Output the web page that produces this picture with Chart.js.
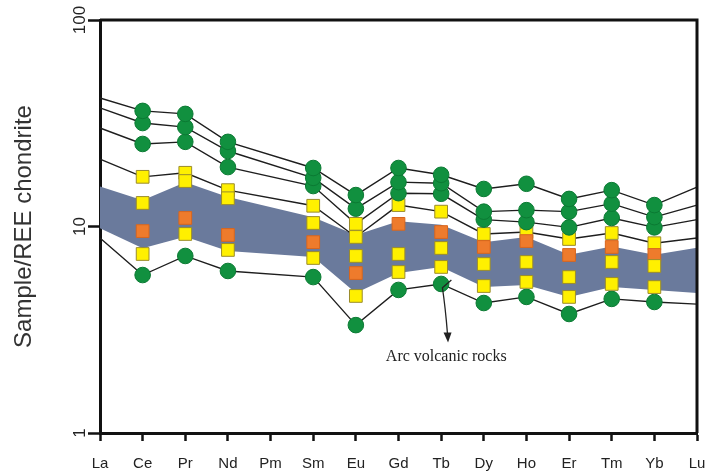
<!DOCTYPE html>
<html><head><meta charset="utf-8">
<script src="https://cdn.jsdelivr.net/npm/chart.js@4.4.1/dist/chart.umd.min.js"></script>
<style>html,body{margin:0;padding:0;background:#fff;overflow:hidden}#wrap{width:707px;height:471px}</style>
</head><body><div id="wrap"><canvas id="c" width="707" height="471"></canvas></div>
<script>
// Categories (REE elements)
const elements = ['La','Ce','Pr','Nd','Pm','Sm','Eu','Gd','Tb','Dy','Ho','Er','Tm','Yb','Lu'];
const yTicks = [1, 10, 100];

// Sample patterns (lines), chondrite-normalised values
const sample1 = [41.9, 36.3, 35.1, 25.7, null, 19.2, 14.2, 19.2, 17.8, 15.2, 16.1, 13.6, 15.0, 12.7, 15.5];
const sample2 = [37.5, 31.7, 30.3, 23.2, null, 17.2, 12.2, 16.4, 16.2, 11.8, 12.0, 11.8, 12.9, 11.1, 12.7];
const sample3 = [30.0, 25.1, 25.7, 19.4, null, 15.7, 10.3, 14.5, 14.4, 10.8, 10.5, 9.9, 11.0, 9.9, 10.8];
const sample4 = [21.2, 17.4, 18.2, 15.0, null, 12.6, 8.9, 12.7, 11.8, 9.2, 9.4, 8.7, 9.3, 8.3, 8.8];
const sample5 = [8.8, 5.82, 7.2, 6.09, null, 5.69, 3.33, 4.93, 5.27, 4.26, 4.56, 3.77, 4.46, 4.31, 4.21];

// Unconnected samples
const yellowA = [null, 13.0, 16.6, 13.7, null, 10.4, 7.2, 7.36, 7.87, 6.58, 6.73, 5.69, 6.73, 6.44, null];
const yellowB = [null, 7.36, 9.2, 7.7, null, 7.04, 4.61, 6.02, 6.37, 5.15, 5.39, 4.56, 5.27, 5.09, null];
const orangeS = [null, 9.5, 11.0, 9.1, null, 8.4, 5.95, 10.3, 9.4, 7.96, 8.5, 7.28, 7.96, 7.28, null];

// Arc volcanic rocks field (upper and lower bounds)
const bandTop    = [15.6, 13.4, 16.4, 13.9, null, 11.1, 9.1, 10.6, 10.2, 8.4, 8.9, 7.3, 8.0, 7.3, 7.9];
const bandBottom = [9.8, 7.84, 8.93, 7.61, null, 7.12, 4.76, 5.95, 6.37, 5.09, 5.21, 4.56, 5.09, 4.93, 4.76];

const fieldLabel = 'Arc volcanic rocks';
const yTitle = 'Sample/REE chondrite';

const GREEN = '#11903f', GREEN_B = '#0b7a33';
const YELLOW = '#fff000', YELLOW_B = '#9a8c2c';
const ORANGE = '#ee7b2c', ORANGE_B = '#d9661d';
const BAND = '#6a7a9c';
const LINE = '#1e1e1e';

const lineSeries = [sample1, sample2, sample3, sample4, sample5];
// which series use square (yellow) markers: all points of sample4, Eu of sample3
const squareMarker = (si, idx) => si === 3 || (si === 2 && elements[idx] === 'Eu');
const lastIdx = elements.length - 1;
const isEdge = ctx => ctx.dataIndex === 0 || ctx.dataIndex === lastIdx;

const datasets = [];
datasets.push({data: bandTop, fill: '+1', backgroundColor: BAND, borderColor: 'rgba(0,0,0,0)', borderWidth: 0, pointRadius: 0, spanGaps: true, order: 10, tension: 0});
datasets.push({data: bandBottom, fill: false, borderColor: 'rgba(0,0,0,0)', borderWidth: 0, pointRadius: 0, spanGaps: true, order: 10, tension: 0});
lineSeries.forEach(d => datasets.push({data: d, fill: false, borderColor: LINE, borderWidth: 1.4, pointRadius: 0, spanGaps: true, order: 5, tension: 0}));
lineSeries.forEach((d, si) => datasets.push({
  data: d, showLine: false, order: 1,
  pointStyle: ctx => squareMarker(si, ctx.dataIndex) ? 'rect' : 'circle',
  pointRadius: ctx => isEdge(ctx) ? 0 : (squareMarker(si, ctx.dataIndex) ? 9 : 7.8),
  pointBackgroundColor: ctx => squareMarker(si, ctx.dataIndex) ? YELLOW : GREEN,
  pointBorderColor: ctx => squareMarker(si, ctx.dataIndex) ? YELLOW_B : GREEN_B,
  pointBorderWidth: 1
}));
[[yellowA, YELLOW, YELLOW_B], [yellowB, YELLOW, YELLOW_B], [orangeS, ORANGE, ORANGE_B]].forEach(([d, c, b]) => datasets.push({
  data: d, showLine: false, order: 0, pointStyle: 'rect', pointRadius: 9,
  pointBackgroundColor: c, pointBorderColor: b, pointBorderWidth: 1
}));

const frame = {
  id: 'frame',
  afterDatasetsDraw(chart) {
    const {ctx, chartArea: a, scales: {x, y}} = chart;
    ctx.save();
    ctx.strokeStyle = '#111';
    ctx.lineWidth = 3;
    ctx.beginPath();
    ctx.moveTo(a.left, a.top); ctx.lineTo(a.right, a.top); ctx.lineTo(a.right, a.bottom);
    ctx.stroke();
    // arrow from the field to the label
    ctx.lineWidth = 1.3;
    ctx.strokeStyle = '#222';
    const p0 = [x.getPixelForValue(8.24), y.getPixelForValue(5.5)];
    const p1 = [x.getPixelForValue(8.03), y.getPixelForValue(5.05)];
    const p2 = [x.getPixelForValue(8.15), y.getPixelForValue(3.0)];
    ctx.beginPath();
    ctx.moveTo(p0[0], p0[1]);
    ctx.lineTo(p1[0], p1[1]);
    ctx.quadraticCurveTo(p1[0] + 3, p1[1] + 20, p2[0], p2[1]);
    ctx.stroke();
    ctx.fillStyle = '#222';
    ctx.beginPath();
    ctx.moveTo(p2[0] - 4, p2[1] - 2);
    ctx.lineTo(p2[0] + 4, p2[1] - 2);
    ctx.lineTo(p2[0] + 0.5, p2[1] + 8);
    ctx.closePath();
    ctx.fill();
    ctx.font = '16px "Liberation Serif", "Times New Roman", serif';
    ctx.textAlign = 'center';
    ctx.textBaseline = 'middle';
    ctx.fillText(fieldLabel, x.getPixelForValue(8.12), y.getPixelForValue(2.33));
    ctx.restore();
  }
};

new Chart(document.getElementById('c'), {
  type: 'line',
  data: {labels: elements, datasets},
  plugins: [frame],
  options: {
    responsive: false, animation: false, devicePixelRatio: 1,
    layout: {padding: {top: 20, right: 8, left: 0, bottom: 0}},
    plugins: {legend: {display: false}, tooltip: {enabled: false}},
    scales: {
      x: {
        type: 'category', offset: false,
        grid: {display: true, drawOnChartArea: false, drawTicks: true, tickLength: 8, tickWidth: 2.5, tickColor: '#111'},
        border: {display: true, width: 3, color: '#111'},
        ticks: {autoSkip: false, maxRotation: 0, minRotation: 0, padding: 14, color: '#222', font: {family: '"Liberation Sans", Arial, sans-serif', size: 15}},
        afterFit(s) { s.height = 38; s.paddingLeft = 0; s.paddingRight = 0; }
      },
      y: {
        type: 'logarithmic', min: 1, max: 100,
        afterBuildTicks(s) { s.ticks = yTicks.map(v => ({value: v})); },
        grid: {display: true, drawOnChartArea: false, drawTicks: true, tickLength: 12, tickWidth: 2.5, tickColor: '#111'},
        border: {display: true, width: 3, color: '#111'},
        ticks: {minRotation: 90, maxRotation: 90, crossAlign: 'center', padding: -6, color: '#222', font: {family: '"Liberation Sans", Arial, sans-serif', size: 17}, callback: v => String(v)},
        title: {display: true, text: yTitle, color: '#333', font: {family: '"Liberation Sans", Arial, sans-serif', size: 24}, padding: {top: 10, bottom: 0}},
        afterFit(s) { s.width = 100; s.paddingTop = 0; s.paddingBottom = 0; }
      }
    }
  }
});
</script></body></html>
